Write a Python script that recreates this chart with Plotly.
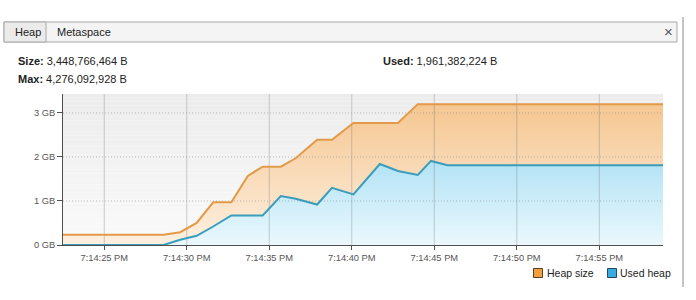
import plotly.graph_objects as go
import pandas as pd

# ---- data (seconds after 7:14:00 PM, values in GB) ----
seconds = [22.5, 28.6, 29.6, 30.6, 31.6, 32.7, 33.7, 34.6, 35.7, 36.6, 37.9, 38.8,
           40.1, 41.7, 42.8, 44.0, 44.8, 45.8, 58.9]
heap_size = [0.235, 0.235, 0.29, 0.5, 0.97, 0.97, 1.57, 1.78, 1.78, 1.97, 2.39, 2.39,
             2.77, 2.77, 2.77, 3.2, 3.2, 3.2, 3.2]
used_heap = [0.0, 0.0, 0.12, 0.21, 0.42, 0.67, 0.67, 0.67, 1.11, 1.05, 0.92, 1.3,
             1.15, 1.84, 1.68, 1.59, 1.91, 1.81, 1.81]
x_tick_seconds = [25, 30, 35, 40, 45, 50, 55]
y_ticks = [0, 1, 2, 3]
y_tick_labels = ["0 GB", "1 GB", "2 GB", "3 GB"]
x_range_seconds = [22.5, 58.86]
y_max = 3.43

size_text = "3,448,766,464 B"
max_text = "4,276,092,928 B"
used_text = "1,961,382,224 B"

base = pd.Timestamp("2024-01-01 19:14:00")
def ts(s):
    return base + pd.to_timedelta(s, unit="s")
times = [ts(s) for s in seconds]
tick_times = [ts(s) for s in x_tick_seconds]
xr = [ts(s) for s in x_range_seconds]

W, H = 696, 300
L, R, T, B = 63, 663, 94, 245
def px(x):
    return (x - L) / (R - L)
def py(y):
    return (B - y) / (B - T)

FONT = "Liberation Sans"
fig = go.Figure()

# fills
fig.add_trace(go.Scatter(x=times, y=heap_size, mode="none", fill="tozeroy",
                         fillgradient=dict(type="vertical", start=0, stop=3.2,
                                           colorscale=[[0, "#fdf0e1"], [1, "#f5c690"]]),
                         showlegend=False, hoverinfo="skip"))
fig.add_trace(go.Scatter(x=times, y=used_heap, mode="none", fill="tozeroy",
                         fillgradient=dict(type="vertical", start=0, stop=1.9,
                                           colorscale=[[0, "#eaf8fd"], [1, "#b2e2f5"]]),
                         showlegend=False, hoverinfo="skip"))

# grid lines drawn above fills
gx, gy = [], []
for t in tick_times:
    gx += [t, t, None]
    gy += [0, y_max, None]
fig.add_trace(go.Scatter(x=gx, y=gy, mode="lines",
                         line=dict(color="rgba(100,100,100,0.3)", width=1),
                         showlegend=False, hoverinfo="skip"))
hx, hy = [], []
for v in y_ticks[1:]:
    hx += [xr[0], xr[1], None]
    hy += [v, v, None]
fig.add_trace(go.Scatter(x=hx, y=hy, mode="lines",
                         line=dict(color="rgba(140,140,140,0.55)", width=1, dash="1px,2px"),
                         showlegend=False, hoverinfo="skip"))

# lines
fig.add_trace(go.Scatter(x=times, y=heap_size, mode="lines",
                         line=dict(color="#e39a48", width=2),
                         showlegend=False, hoverinfo="skip"))
fig.add_trace(go.Scatter(x=times, y=used_heap, mode="lines",
                         line=dict(color="#3a9dbb", width=2),
                         showlegend=False, hoverinfo="skip"))

shapes = []
# plot background gradient
n = 40
top_c = (236, 236, 236)
bot_c = (250, 250, 250)
for i in range(n):
    f = (i + 0.5) / n
    c = tuple(round(bot_c[k] + (top_c[k] - bot_c[k]) * f) for k in range(3))
    shapes.append(dict(type="rect", xref="paper", yref="paper", x0=0, x1=1,
                       y0=i / n, y1=(i + 1) / n, layer="below",
                       fillcolor="rgb(%d,%d,%d)" % c, line=dict(width=0)))
# tab bar
shapes.append(dict(type="rect", xref="paper", yref="paper", x0=px(4), x1=px(677),
                   y0=py(42), y1=py(22), fillcolor="#f4f4f4",
                   line=dict(color="#a8a8a8", width=1)))
shapes.append(dict(type="rect", xref="paper", yref="paper", x0=px(4), x1=px(46),
                   y0=py(42), y1=py(22), fillcolor="#ebebeb",
                   line=dict(color="#a8a8a8", width=1)))
# right border line
shapes.append(dict(type="line", xref="paper", yref="paper", x0=px(683), x1=px(683),
                   y0=py(287), y1=py(17), line=dict(color="#8a8a8a", width=1)))
# legend squares
shapes.append(dict(type="rect", xref="paper", yref="paper", x0=px(533.5), x1=px(542.5),
                   y0=py(277.5), y1=py(268.5), fillcolor="#f0a03c",
                   line=dict(color="#5a4020", width=1)))
shapes.append(dict(type="rect", xref="paper", yref="paper", x0=px(607.5), x1=px(616.5),
                   y0=py(277.5), y1=py(268.5), fillcolor="#36ace0",
                   line=dict(color="#204a60", width=1)))

def ann(text, x, y, size=11, color="#222", xanchor="left"):
    return dict(text=text, x=px(x), y=py(y), xref="paper", yref="paper",
                xanchor=xanchor, yanchor="middle", showarrow=False,
                font=dict(family=FONT, size=size, color=color))

annotations = [
    ann("Heap", 13, 32),
    ann("Metaspace", 55, 32),
    ann("×", 668, 32, size=15, color="#555", xanchor="center"),
    ann("<b>Size:</b> " + size_text, 16, 61.5),
    ann("<b>Max:</b> " + max_text, 16, 78.5),
    ann("<b>Used:</b> " + used_text, 381, 61.5),
    ann("Heap size", 545, 273, size=10.5),
    ann("Used heap", 618, 273, size=10.5),
]

fig.update_layout(
    width=W, height=H,
    margin=dict(l=L, r=W - R, t=T, b=H - B, pad=0),
    paper_bgcolor="white", plot_bgcolor="rgba(0,0,0,0)",
    showlegend=False,
    shapes=shapes, annotations=annotations,
    font=dict(family=FONT),
    xaxis=dict(type="date", range=xr, tickvals=tick_times, tickformat="%-I:%M:%S %p",
               showgrid=False, zeroline=False, showline=True, linecolor="#505050",
               linewidth=1, ticks="outside", ticklen=4, tickcolor="#505050",
               tickfont=dict(family=FONT, size=9.3, color="#555")),
    yaxis=dict(range=[0, y_max], tickmode="array", tickvals=y_ticks, ticktext=y_tick_labels,
               showgrid=False, zeroline=False, showline=True, linecolor="#505050",
               linewidth=1, ticks="outside", ticklen=5, tickcolor="#505050",
               tickfont=dict(family=FONT, size=9.3, color="#555")),
)

fig.write_html("out.html")
